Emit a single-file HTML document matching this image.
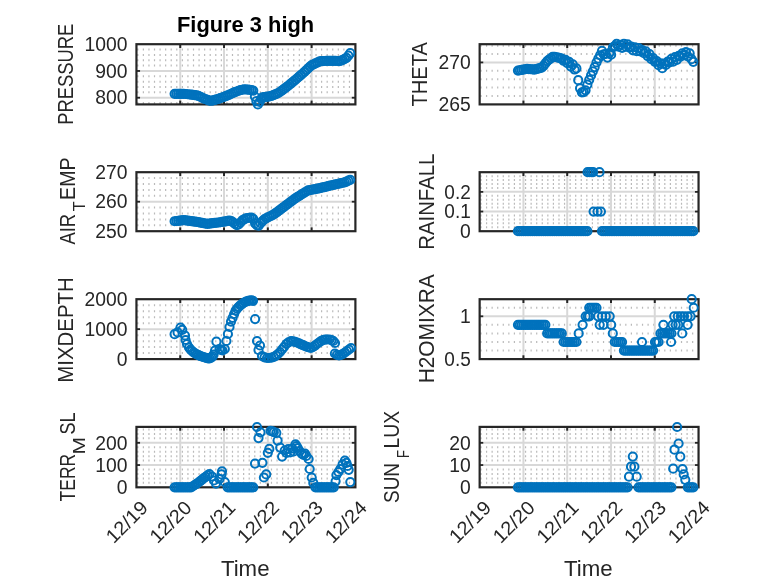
<!DOCTYPE html>
<html lang="en"><head><meta charset="utf-8"><title>Figure 3 high</title>
<style>html,body{margin:0;padding:0;background:#fff;}svg{display:block;}text{font-family:'Liberation Sans', 'DejaVu Sans', sans-serif;fill:#262626;}</style></head><body>
<svg width="778" height="583" viewBox="0 0 778 583">
<rect x="0" y="0" width="778" height="583" fill="#ffffff"/>
<text x="177" y="31.6" font-size="21.2" textLength="137.2" lengthAdjust="spacingAndGlyphs" font-weight="bold" style="fill:#000000">Figure 3 high</text>
<g>
<line x1="137.2" y1="103.06" x2="354.4" y2="103.06" stroke="#bababa" stroke-width="2" stroke-dasharray="1.2 4.37"/>
<line x1="137.2" y1="92.36" x2="354.4" y2="92.36" stroke="#bababa" stroke-width="2" stroke-dasharray="1.2 4.37"/>
<line x1="137.2" y1="87.01" x2="354.4" y2="87.01" stroke="#bababa" stroke-width="2" stroke-dasharray="1.2 4.37"/>
<line x1="137.2" y1="81.66" x2="354.4" y2="81.66" stroke="#bababa" stroke-width="2" stroke-dasharray="1.2 4.37"/>
<line x1="137.2" y1="76.31" x2="354.4" y2="76.31" stroke="#bababa" stroke-width="2" stroke-dasharray="1.2 4.37"/>
<line x1="137.2" y1="65.6" x2="354.4" y2="65.6" stroke="#bababa" stroke-width="2" stroke-dasharray="1.2 4.37"/>
<line x1="137.2" y1="60.25" x2="354.4" y2="60.25" stroke="#bababa" stroke-width="2" stroke-dasharray="1.2 4.37"/>
<line x1="137.2" y1="54.9" x2="354.4" y2="54.9" stroke="#bababa" stroke-width="2" stroke-dasharray="1.2 4.37"/>
<line x1="137.2" y1="49.55" x2="354.4" y2="49.55" stroke="#bababa" stroke-width="2" stroke-dasharray="1.2 4.37"/>
<line x1="180.24" y1="44.2" x2="180.24" y2="104.4" stroke="#d8d8d8" stroke-width="2"/>
<line x1="224.03" y1="44.2" x2="224.03" y2="104.4" stroke="#d8d8d8" stroke-width="2"/>
<line x1="267.82" y1="44.2" x2="267.82" y2="104.4" stroke="#d8d8d8" stroke-width="2"/>
<line x1="311.61" y1="44.2" x2="311.61" y2="104.4" stroke="#d8d8d8" stroke-width="2"/>
<line x1="136.45" y1="97.71" x2="355.4" y2="97.71" stroke="#d8d8d8" stroke-width="2"/>
<line x1="136.45" y1="70.96" x2="355.4" y2="70.96" stroke="#d8d8d8" stroke-width="2"/>
<rect x="136.45" y="44.2" width="218.95" height="60.2" fill="none" stroke="#262626" stroke-width="2.2"/>
<line x1="180.24" y1="104.4" x2="180.24" y2="100.6" stroke="#262626" stroke-width="2"/>
<line x1="180.24" y1="44.2" x2="180.24" y2="48" stroke="#262626" stroke-width="2"/>
<line x1="224.03" y1="104.4" x2="224.03" y2="100.6" stroke="#262626" stroke-width="2"/>
<line x1="224.03" y1="44.2" x2="224.03" y2="48" stroke="#262626" stroke-width="2"/>
<line x1="267.82" y1="104.4" x2="267.82" y2="100.6" stroke="#262626" stroke-width="2"/>
<line x1="267.82" y1="44.2" x2="267.82" y2="48" stroke="#262626" stroke-width="2"/>
<line x1="311.61" y1="104.4" x2="311.61" y2="100.6" stroke="#262626" stroke-width="2"/>
<line x1="311.61" y1="44.2" x2="311.61" y2="48" stroke="#262626" stroke-width="2"/>
<line x1="136.45" y1="97.71" x2="140.05" y2="97.71" stroke="#262626" stroke-width="1.8"/>
<line x1="355.4" y1="97.71" x2="351.8" y2="97.71" stroke="#262626" stroke-width="1.8"/>
<text x="95.3" y="104.41" font-size="19.3" textLength="32.25" lengthAdjust="spacingAndGlyphs">800</text>
<line x1="136.45" y1="70.96" x2="140.05" y2="70.96" stroke="#262626" stroke-width="1.8"/>
<line x1="355.4" y1="70.96" x2="351.8" y2="70.96" stroke="#262626" stroke-width="1.8"/>
<text x="95.3" y="77.66" font-size="19.3" textLength="32.25" lengthAdjust="spacingAndGlyphs">900</text>
<text x="84.55" y="50.9" font-size="19.3" textLength="43" lengthAdjust="spacingAndGlyphs">1000</text>
<text transform="translate(73.3 74.3) rotate(-90)" x="-50.4" y="0" font-size="21.2" textLength="100.8" lengthAdjust="spacingAndGlyphs">PRESSURE</text>
<g fill="none" stroke="#0072bd" stroke-width="2">
<circle cx="174.61" cy="93.8" r="4.1"/>
<circle cx="176.44" cy="93.8" r="4.1"/>
<circle cx="178.27" cy="93.8" r="4.1"/>
<circle cx="180.1" cy="93.8" r="4.1"/>
<circle cx="181.93" cy="93.8" r="4.1"/>
<circle cx="183.76" cy="93.8" r="4.1"/>
<circle cx="185.59" cy="94.01" r="4.1"/>
<circle cx="187.42" cy="94.24" r="4.1"/>
<circle cx="189.25" cy="94.48" r="4.1"/>
<circle cx="191.07" cy="94.72" r="4.1"/>
<circle cx="192.9" cy="94.95" r="4.1"/>
<circle cx="194.73" cy="95.19" r="4.1"/>
<circle cx="196.56" cy="95.43" r="4.1"/>
<circle cx="198.39" cy="95.84" r="4.1"/>
<circle cx="200.22" cy="96.74" r="4.1"/>
<circle cx="202.05" cy="97.64" r="4.1"/>
<circle cx="203.88" cy="98.54" r="4.1"/>
<circle cx="205.71" cy="99.26" r="4.1"/>
<circle cx="207.54" cy="99.97" r="4.1"/>
<circle cx="209.37" cy="100.68" r="4.1"/>
<circle cx="211.2" cy="100.77" r="4.1"/>
<circle cx="213.02" cy="100.34" r="4.1"/>
<circle cx="214.85" cy="99.9" r="4.1"/>
<circle cx="216.68" cy="99.47" r="4.1"/>
<circle cx="218.51" cy="98.84" r="4.1"/>
<circle cx="220.34" cy="98.16" r="4.1"/>
<circle cx="222.17" cy="97.48" r="4.1"/>
<circle cx="224" cy="96.8" r="4.1"/>
<circle cx="225.83" cy="96.1" r="4.1"/>
<circle cx="227.66" cy="95.32" r="4.1"/>
<circle cx="229.49" cy="94.53" r="4.1"/>
<circle cx="231.32" cy="93.75" r="4.1"/>
<circle cx="233.15" cy="92.97" r="4.1"/>
<circle cx="234.97" cy="92.21" r="4.1"/>
<circle cx="236.8" cy="91.48" r="4.1"/>
<circle cx="238.63" cy="90.75" r="4.1"/>
<circle cx="240.46" cy="90.11" r="4.1"/>
<circle cx="242.29" cy="89.75" r="4.1"/>
<circle cx="244.12" cy="89.4" r="4.1"/>
<circle cx="245.95" cy="89.51" r="4.1"/>
<circle cx="247.78" cy="89.61" r="4.1"/>
<circle cx="249.61" cy="89.77" r="4.1"/>
<circle cx="251.44" cy="90.19" r="4.1"/>
<circle cx="253.27" cy="90.6" r="4.1"/>
<circle cx="254.9" cy="96.6" r="4.1"/>
<circle cx="256.4" cy="101.2" r="4.1"/>
<circle cx="257.9" cy="104.4" r="4.1"/>
<circle cx="259.6" cy="102" r="4.1"/>
<circle cx="261.3" cy="98.8" r="4.1"/>
<circle cx="262.41" cy="97.4" r="4.1"/>
<circle cx="264.24" cy="97.09" r="4.1"/>
<circle cx="266.07" cy="96.82" r="4.1"/>
<circle cx="267.9" cy="96.59" r="4.1"/>
<circle cx="269.73" cy="96.35" r="4.1"/>
<circle cx="271.56" cy="95.92" r="4.1"/>
<circle cx="273.39" cy="95.13" r="4.1"/>
<circle cx="275.22" cy="94.33" r="4.1"/>
<circle cx="277.05" cy="93.54" r="4.1"/>
<circle cx="278.88" cy="92.75" r="4.1"/>
<circle cx="280.7" cy="91.43" r="4.1"/>
<circle cx="282.53" cy="90.07" r="4.1"/>
<circle cx="284.36" cy="88.71" r="4.1"/>
<circle cx="286.19" cy="87.35" r="4.1"/>
<circle cx="288.02" cy="85.98" r="4.1"/>
<circle cx="289.85" cy="84.43" r="4.1"/>
<circle cx="291.68" cy="82.88" r="4.1"/>
<circle cx="293.51" cy="81.34" r="4.1"/>
<circle cx="295.34" cy="79.79" r="4.1"/>
<circle cx="297.17" cy="78.24" r="4.1"/>
<circle cx="299" cy="76.69" r="4.1"/>
<circle cx="300.82" cy="75.14" r="4.1"/>
<circle cx="302.65" cy="73.5" r="4.1"/>
<circle cx="304.48" cy="71.77" r="4.1"/>
<circle cx="306.31" cy="70.04" r="4.1"/>
<circle cx="308.14" cy="68.3" r="4.1"/>
<circle cx="309.97" cy="66.57" r="4.1"/>
<circle cx="311.8" cy="65.21" r="4.1"/>
<circle cx="313.63" cy="64.31" r="4.1"/>
<circle cx="315.46" cy="63.42" r="4.1"/>
<circle cx="317.29" cy="62.52" r="4.1"/>
<circle cx="319.12" cy="61.63" r="4.1"/>
<circle cx="320.95" cy="61.08" r="4.1"/>
<circle cx="322.77" cy="61.04" r="4.1"/>
<circle cx="324.6" cy="60.99" r="4.1"/>
<circle cx="326.43" cy="60.95" r="4.1"/>
<circle cx="328.26" cy="60.9" r="4.1"/>
<circle cx="330.09" cy="60.86" r="4.1"/>
<circle cx="331.92" cy="60.81" r="4.1"/>
<circle cx="333.75" cy="60.85" r="4.1"/>
<circle cx="335.58" cy="60.92" r="4.1"/>
<circle cx="337.41" cy="60.99" r="4.1"/>
<circle cx="339.24" cy="61.06" r="4.1"/>
<circle cx="341.07" cy="60.71" r="4.1"/>
<circle cx="342.9" cy="59.78" r="4.1"/>
<circle cx="344.73" cy="58.85" r="4.1"/>
<circle cx="346.55" cy="57.82" r="4.1"/>
<circle cx="348.38" cy="55.64" r="4.1"/>
<circle cx="350.21" cy="53.22" r="4.1"/>
</g>
</g>
<g>
<line x1="480.4" y1="96" x2="697.55" y2="96" stroke="#bababa" stroke-width="2" stroke-dasharray="1.2 4.37"/>
<line x1="480.4" y1="87.61" x2="697.55" y2="87.61" stroke="#bababa" stroke-width="2" stroke-dasharray="1.2 4.37"/>
<line x1="480.4" y1="79.21" x2="697.55" y2="79.21" stroke="#bababa" stroke-width="2" stroke-dasharray="1.2 4.37"/>
<line x1="480.4" y1="70.82" x2="697.55" y2="70.82" stroke="#bababa" stroke-width="2" stroke-dasharray="1.2 4.37"/>
<line x1="480.4" y1="54.02" x2="697.55" y2="54.02" stroke="#bababa" stroke-width="2" stroke-dasharray="1.2 4.37"/>
<line x1="480.4" y1="45.63" x2="697.55" y2="45.63" stroke="#bababa" stroke-width="2" stroke-dasharray="1.2 4.37"/>
<line x1="523.43" y1="44.2" x2="523.43" y2="104.4" stroke="#d8d8d8" stroke-width="2"/>
<line x1="567.21" y1="44.2" x2="567.21" y2="104.4" stroke="#d8d8d8" stroke-width="2"/>
<line x1="610.99" y1="44.2" x2="610.99" y2="104.4" stroke="#d8d8d8" stroke-width="2"/>
<line x1="654.77" y1="44.2" x2="654.77" y2="104.4" stroke="#d8d8d8" stroke-width="2"/>
<line x1="479.65" y1="62.42" x2="698.55" y2="62.42" stroke="#d8d8d8" stroke-width="2"/>
<rect x="479.65" y="44.2" width="218.9" height="60.2" fill="none" stroke="#262626" stroke-width="2.2"/>
<line x1="523.43" y1="104.4" x2="523.43" y2="100.6" stroke="#262626" stroke-width="2"/>
<line x1="523.43" y1="44.2" x2="523.43" y2="48" stroke="#262626" stroke-width="2"/>
<line x1="567.21" y1="104.4" x2="567.21" y2="100.6" stroke="#262626" stroke-width="2"/>
<line x1="567.21" y1="44.2" x2="567.21" y2="48" stroke="#262626" stroke-width="2"/>
<line x1="610.99" y1="104.4" x2="610.99" y2="100.6" stroke="#262626" stroke-width="2"/>
<line x1="610.99" y1="44.2" x2="610.99" y2="48" stroke="#262626" stroke-width="2"/>
<line x1="654.77" y1="104.4" x2="654.77" y2="100.6" stroke="#262626" stroke-width="2"/>
<line x1="654.77" y1="44.2" x2="654.77" y2="48" stroke="#262626" stroke-width="2"/>
<text x="438.5" y="111.1" font-size="19.3" textLength="32.25" lengthAdjust="spacingAndGlyphs">265</text>
<line x1="479.65" y1="62.42" x2="483.25" y2="62.42" stroke="#262626" stroke-width="1.8"/>
<line x1="698.55" y1="62.42" x2="694.95" y2="62.42" stroke="#262626" stroke-width="1.8"/>
<text x="438.5" y="69.12" font-size="19.3" textLength="32.25" lengthAdjust="spacingAndGlyphs">270</text>
<text transform="translate(427.3 74.3) rotate(-90)" x="-32.2" y="0" font-size="21.2" textLength="64.4" lengthAdjust="spacingAndGlyphs">THETA</text>
<g fill="none" stroke="#0072bd" stroke-width="2">
<circle cx="517.96" cy="70.61" r="4.1"/>
<circle cx="519.79" cy="70.27" r="4.1"/>
<circle cx="521.61" cy="69.93" r="4.1"/>
<circle cx="523.44" cy="69.59" r="4.1"/>
<circle cx="525.27" cy="69.24" r="4.1"/>
<circle cx="527.09" cy="68.9" r="4.1"/>
<circle cx="528.92" cy="69.07" r="4.1"/>
<circle cx="530.75" cy="69.23" r="4.1"/>
<circle cx="532.57" cy="69.4" r="4.1"/>
<circle cx="534.4" cy="69.56" r="4.1"/>
<circle cx="536.23" cy="69.17" r="4.1"/>
<circle cx="538.05" cy="68.63" r="4.1"/>
<circle cx="539.88" cy="68.08" r="4.1"/>
<circle cx="541.71" cy="67.54" r="4.1"/>
<circle cx="543.53" cy="65.91" r="4.1"/>
<circle cx="545.36" cy="63.45" r="4.1"/>
<circle cx="547.19" cy="61.04" r="4.1"/>
<circle cx="549.01" cy="59.68" r="4.1"/>
<circle cx="550.84" cy="58.33" r="4.1"/>
<circle cx="552.67" cy="56.97" r="4.1"/>
<circle cx="554.49" cy="56.8" r="4.1"/>
<circle cx="556.32" cy="57.26" r="4.1"/>
<circle cx="558.15" cy="57.71" r="4.1"/>
<circle cx="559.97" cy="58.17" r="4.1"/>
<circle cx="561.8" cy="58.62" r="4.1"/>
<circle cx="563.63" cy="60.77" r="4.1"/>
<circle cx="565.45" cy="59.89" r="4.1"/>
<circle cx="567.28" cy="63.18" r="4.1"/>
<circle cx="569.11" cy="61.92" r="4.1"/>
<circle cx="570.93" cy="66.57" r="4.1"/>
<circle cx="572.76" cy="64.46" r="4.1"/>
<circle cx="574.59" cy="69.52" r="4.1"/>
<circle cx="576.41" cy="68.38" r="4.1"/>
<circle cx="578.24" cy="80.15" r="4.1"/>
<circle cx="580.07" cy="88.33" r="4.1"/>
<circle cx="581.89" cy="92.29" r="4.1"/>
<circle cx="583.72" cy="92.12" r="4.1"/>
<circle cx="585.55" cy="90.31" r="4.1"/>
<circle cx="587.37" cy="84.64" r="4.1"/>
<circle cx="589.2" cy="79.81" r="4.1"/>
<circle cx="591.03" cy="75.42" r="4.1"/>
<circle cx="592.85" cy="71.32" r="4.1"/>
<circle cx="594.68" cy="67.12" r="4.1"/>
<circle cx="596.51" cy="62.44" r="4.1"/>
<circle cx="598.33" cy="58.53" r="4.1"/>
<circle cx="600.16" cy="55.23" r="4.1"/>
<circle cx="601.99" cy="50.75" r="4.1"/>
<circle cx="603.81" cy="54.46" r="4.1"/>
<circle cx="605.64" cy="53.99" r="4.1"/>
<circle cx="607.47" cy="57.62" r="4.1"/>
<circle cx="609.29" cy="53.21" r="4.1"/>
<circle cx="611.12" cy="54.67" r="4.1"/>
<circle cx="612.95" cy="47.32" r="4.1"/>
<circle cx="614.77" cy="46.08" r="4.1"/>
<circle cx="616.6" cy="43.89" r="4.1"/>
<circle cx="618.43" cy="46.71" r="4.1"/>
<circle cx="620.25" cy="44.91" r="4.1"/>
<circle cx="622.08" cy="47.92" r="4.1"/>
<circle cx="623.91" cy="43.74" r="4.1"/>
<circle cx="625.73" cy="46.7" r="4.1"/>
<circle cx="627.56" cy="44.34" r="4.1"/>
<circle cx="629.39" cy="47.6" r="4.1"/>
<circle cx="631.21" cy="46.7" r="4.1"/>
<circle cx="633.04" cy="50.33" r="4.1"/>
<circle cx="634.87" cy="47.23" r="4.1"/>
<circle cx="636.69" cy="51.17" r="4.1"/>
<circle cx="638.52" cy="47.98" r="4.1"/>
<circle cx="640.35" cy="51.42" r="4.1"/>
<circle cx="642.17" cy="50.22" r="4.1"/>
<circle cx="644" cy="53.18" r="4.1"/>
<circle cx="645.83" cy="51.46" r="4.1"/>
<circle cx="647.65" cy="56.11" r="4.1"/>
<circle cx="649.48" cy="54.06" r="4.1"/>
<circle cx="651.31" cy="59.14" r="4.1"/>
<circle cx="653.13" cy="58.1" r="4.1"/>
<circle cx="654.96" cy="61.79" r="4.1"/>
<circle cx="656.79" cy="61.18" r="4.1"/>
<circle cx="658.61" cy="65.25" r="4.1"/>
<circle cx="660.44" cy="63.34" r="4.1"/>
<circle cx="662.27" cy="68.24" r="4.1"/>
<circle cx="664.09" cy="63.56" r="4.1"/>
<circle cx="665.92" cy="64.96" r="4.1"/>
<circle cx="667.75" cy="61.59" r="4.1"/>
<circle cx="669.57" cy="62.38" r="4.1"/>
<circle cx="671.4" cy="58.94" r="4.1"/>
<circle cx="673.23" cy="61.57" r="4.1"/>
<circle cx="675.05" cy="57.13" r="4.1"/>
<circle cx="676.88" cy="59.79" r="4.1"/>
<circle cx="678.71" cy="55.97" r="4.1"/>
<circle cx="680.53" cy="56.7" r="4.1"/>
<circle cx="682.36" cy="53.27" r="4.1"/>
<circle cx="684.19" cy="55.05" r="4.1"/>
<circle cx="686.01" cy="52.14" r="4.1"/>
<circle cx="687.84" cy="56.32" r="4.1"/>
<circle cx="689.67" cy="53.41" r="4.1"/>
<circle cx="691.49" cy="59.16" r="4.1"/>
<circle cx="693.32" cy="61.86" r="4.1"/>
</g>
</g>
<g>
<line x1="137.2" y1="225.3" x2="354.4" y2="225.3" stroke="#bababa" stroke-width="2" stroke-dasharray="1.2 4.37"/>
<line x1="137.2" y1="219.4" x2="354.4" y2="219.4" stroke="#bababa" stroke-width="2" stroke-dasharray="1.2 4.37"/>
<line x1="137.2" y1="213.5" x2="354.4" y2="213.5" stroke="#bababa" stroke-width="2" stroke-dasharray="1.2 4.37"/>
<line x1="137.2" y1="207.6" x2="354.4" y2="207.6" stroke="#bababa" stroke-width="2" stroke-dasharray="1.2 4.37"/>
<line x1="137.2" y1="195.8" x2="354.4" y2="195.8" stroke="#bababa" stroke-width="2" stroke-dasharray="1.2 4.37"/>
<line x1="137.2" y1="189.9" x2="354.4" y2="189.9" stroke="#bababa" stroke-width="2" stroke-dasharray="1.2 4.37"/>
<line x1="137.2" y1="184" x2="354.4" y2="184" stroke="#bababa" stroke-width="2" stroke-dasharray="1.2 4.37"/>
<line x1="137.2" y1="178.1" x2="354.4" y2="178.1" stroke="#bababa" stroke-width="2" stroke-dasharray="1.2 4.37"/>
<line x1="180.24" y1="172.2" x2="180.24" y2="231.2" stroke="#d8d8d8" stroke-width="2"/>
<line x1="224.03" y1="172.2" x2="224.03" y2="231.2" stroke="#d8d8d8" stroke-width="2"/>
<line x1="267.82" y1="172.2" x2="267.82" y2="231.2" stroke="#d8d8d8" stroke-width="2"/>
<line x1="311.61" y1="172.2" x2="311.61" y2="231.2" stroke="#d8d8d8" stroke-width="2"/>
<line x1="136.45" y1="201.7" x2="355.4" y2="201.7" stroke="#d8d8d8" stroke-width="2"/>
<rect x="136.45" y="172.2" width="218.95" height="59" fill="none" stroke="#262626" stroke-width="2.2"/>
<line x1="180.24" y1="231.2" x2="180.24" y2="227.4" stroke="#262626" stroke-width="2"/>
<line x1="180.24" y1="172.2" x2="180.24" y2="176" stroke="#262626" stroke-width="2"/>
<line x1="224.03" y1="231.2" x2="224.03" y2="227.4" stroke="#262626" stroke-width="2"/>
<line x1="224.03" y1="172.2" x2="224.03" y2="176" stroke="#262626" stroke-width="2"/>
<line x1="267.82" y1="231.2" x2="267.82" y2="227.4" stroke="#262626" stroke-width="2"/>
<line x1="267.82" y1="172.2" x2="267.82" y2="176" stroke="#262626" stroke-width="2"/>
<line x1="311.61" y1="231.2" x2="311.61" y2="227.4" stroke="#262626" stroke-width="2"/>
<line x1="311.61" y1="172.2" x2="311.61" y2="176" stroke="#262626" stroke-width="2"/>
<text x="95.3" y="237.9" font-size="19.3" textLength="32.25" lengthAdjust="spacingAndGlyphs">250</text>
<line x1="136.45" y1="201.7" x2="140.05" y2="201.7" stroke="#262626" stroke-width="1.8"/>
<line x1="355.4" y1="201.7" x2="351.8" y2="201.7" stroke="#262626" stroke-width="1.8"/>
<text x="95.3" y="208.4" font-size="19.3" textLength="32.25" lengthAdjust="spacingAndGlyphs">260</text>
<text x="95.3" y="178.9" font-size="19.3" textLength="32.25" lengthAdjust="spacingAndGlyphs">270</text>
<text transform="translate(75.4 244.5) rotate(-90)" x="0" y="0" font-size="21.2" textLength="30.6" lengthAdjust="spacingAndGlyphs">AIR</text>
<text transform="translate(85.3 211.2) rotate(-90)" x="0" y="0" font-size="16.96" textLength="10" lengthAdjust="spacingAndGlyphs">T</text>
<text transform="translate(75.4 199.9) rotate(-90)" x="0" y="0" font-size="21.2" textLength="42.6" lengthAdjust="spacingAndGlyphs">EMP</text>
<g fill="none" stroke="#0072bd" stroke-width="2">
<circle cx="174.61" cy="221.23" r="4.1"/>
<circle cx="176.44" cy="221.01" r="4.1"/>
<circle cx="178.27" cy="220.79" r="4.1"/>
<circle cx="180.1" cy="220.57" r="4.1"/>
<circle cx="181.93" cy="220.35" r="4.1"/>
<circle cx="183.76" cy="220.13" r="4.1"/>
<circle cx="185.59" cy="220.32" r="4.1"/>
<circle cx="187.42" cy="220.57" r="4.1"/>
<circle cx="189.25" cy="220.83" r="4.1"/>
<circle cx="191.07" cy="221.08" r="4.1"/>
<circle cx="192.9" cy="221.33" r="4.1"/>
<circle cx="194.73" cy="221.58" r="4.1"/>
<circle cx="196.56" cy="221.85" r="4.1"/>
<circle cx="198.39" cy="222.21" r="4.1"/>
<circle cx="200.22" cy="222.56" r="4.1"/>
<circle cx="202.05" cy="222.92" r="4.1"/>
<circle cx="203.88" cy="223.27" r="4.1"/>
<circle cx="205.71" cy="223.63" r="4.1"/>
<circle cx="207.54" cy="223.85" r="4.1"/>
<circle cx="209.37" cy="223.63" r="4.1"/>
<circle cx="211.2" cy="223.4" r="4.1"/>
<circle cx="213.02" cy="223.18" r="4.1"/>
<circle cx="214.85" cy="222.96" r="4.1"/>
<circle cx="216.68" cy="222.74" r="4.1"/>
<circle cx="218.51" cy="222.52" r="4.1"/>
<circle cx="220.34" cy="222.25" r="4.1"/>
<circle cx="222.17" cy="221.93" r="4.1"/>
<circle cx="224" cy="221.61" r="4.1"/>
<circle cx="225.83" cy="221.29" r="4.1"/>
<circle cx="227.66" cy="220.96" r="4.1"/>
<circle cx="229.49" cy="220.64" r="4.1"/>
<circle cx="231.32" cy="221.14" r="4.1"/>
<circle cx="233.15" cy="222.28" r="4.1"/>
<circle cx="234.97" cy="223.87" r="4.1"/>
<circle cx="236.8" cy="225.08" r="4.1"/>
<circle cx="238.63" cy="224.51" r="4.1"/>
<circle cx="240.46" cy="222.5" r="4.1"/>
<circle cx="242.29" cy="220.34" r="4.1"/>
<circle cx="244.12" cy="219.34" r="4.1"/>
<circle cx="245.95" cy="218.34" r="4.1"/>
<circle cx="247.78" cy="217.99" r="4.1"/>
<circle cx="249.61" cy="217.75" r="4.1"/>
<circle cx="251.44" cy="217.51" r="4.1"/>
<circle cx="253.27" cy="218.88" r="4.1"/>
<circle cx="255.1" cy="223.44" r="4.1"/>
<circle cx="256.92" cy="225.14" r="4.1"/>
<circle cx="258.75" cy="225.57" r="4.1"/>
<circle cx="260.58" cy="223.19" r="4.1"/>
<circle cx="262.41" cy="221.14" r="4.1"/>
<circle cx="264.24" cy="219.43" r="4.1"/>
<circle cx="266.07" cy="218.31" r="4.1"/>
<circle cx="267.9" cy="217.4" r="4.1"/>
<circle cx="269.73" cy="216.49" r="4.1"/>
<circle cx="271.56" cy="215.57" r="4.1"/>
<circle cx="273.39" cy="214.66" r="4.1"/>
<circle cx="275.22" cy="213.41" r="4.1"/>
<circle cx="277.05" cy="212.04" r="4.1"/>
<circle cx="278.88" cy="210.67" r="4.1"/>
<circle cx="280.7" cy="209.3" r="4.1"/>
<circle cx="282.53" cy="207.93" r="4.1"/>
<circle cx="284.36" cy="206.55" r="4.1"/>
<circle cx="286.19" cy="205.18" r="4.1"/>
<circle cx="288.02" cy="203.81" r="4.1"/>
<circle cx="289.85" cy="202.44" r="4.1"/>
<circle cx="291.68" cy="201.07" r="4.1"/>
<circle cx="293.51" cy="199.69" r="4.1"/>
<circle cx="295.34" cy="198.32" r="4.1"/>
<circle cx="297.17" cy="197.17" r="4.1"/>
<circle cx="299" cy="196.03" r="4.1"/>
<circle cx="300.82" cy="194.89" r="4.1"/>
<circle cx="302.65" cy="193.76" r="4.1"/>
<circle cx="304.48" cy="192.62" r="4.1"/>
<circle cx="306.31" cy="191.49" r="4.1"/>
<circle cx="308.14" cy="190.45" r="4.1"/>
<circle cx="309.97" cy="190.1" r="4.1"/>
<circle cx="311.8" cy="189.74" r="4.1"/>
<circle cx="313.63" cy="189.38" r="4.1"/>
<circle cx="315.46" cy="189.03" r="4.1"/>
<circle cx="317.29" cy="188.67" r="4.1"/>
<circle cx="319.12" cy="188.31" r="4.1"/>
<circle cx="320.95" cy="187.92" r="4.1"/>
<circle cx="322.77" cy="187.47" r="4.1"/>
<circle cx="324.6" cy="187.03" r="4.1"/>
<circle cx="326.43" cy="186.58" r="4.1"/>
<circle cx="328.26" cy="186.13" r="4.1"/>
<circle cx="330.09" cy="185.69" r="4.1"/>
<circle cx="331.92" cy="185.24" r="4.1"/>
<circle cx="333.75" cy="184.82" r="4.1"/>
<circle cx="335.58" cy="184.4" r="4.1"/>
<circle cx="337.41" cy="183.99" r="4.1"/>
<circle cx="339.24" cy="183.58" r="4.1"/>
<circle cx="341.07" cy="183.17" r="4.1"/>
<circle cx="342.9" cy="182.75" r="4.1"/>
<circle cx="344.73" cy="182.34" r="4.1"/>
<circle cx="346.55" cy="181.55" r="4.1"/>
<circle cx="348.38" cy="180.71" r="4.1"/>
<circle cx="350.21" cy="179.88" r="4.1"/>
</g>
</g>
<g>
<line x1="480.4" y1="227.27" x2="697.55" y2="227.27" stroke="#bababa" stroke-width="2" stroke-dasharray="1.2 4.37"/>
<line x1="480.4" y1="223.33" x2="697.55" y2="223.33" stroke="#bababa" stroke-width="2" stroke-dasharray="1.2 4.37"/>
<line x1="480.4" y1="219.4" x2="697.55" y2="219.4" stroke="#bababa" stroke-width="2" stroke-dasharray="1.2 4.37"/>
<line x1="480.4" y1="215.47" x2="697.55" y2="215.47" stroke="#bababa" stroke-width="2" stroke-dasharray="1.2 4.37"/>
<line x1="480.4" y1="207.6" x2="697.55" y2="207.6" stroke="#bababa" stroke-width="2" stroke-dasharray="1.2 4.37"/>
<line x1="480.4" y1="203.67" x2="697.55" y2="203.67" stroke="#bababa" stroke-width="2" stroke-dasharray="1.2 4.37"/>
<line x1="480.4" y1="199.73" x2="697.55" y2="199.73" stroke="#bababa" stroke-width="2" stroke-dasharray="1.2 4.37"/>
<line x1="480.4" y1="195.8" x2="697.55" y2="195.8" stroke="#bababa" stroke-width="2" stroke-dasharray="1.2 4.37"/>
<line x1="480.4" y1="187.93" x2="697.55" y2="187.93" stroke="#bababa" stroke-width="2" stroke-dasharray="1.2 4.37"/>
<line x1="480.4" y1="184" x2="697.55" y2="184" stroke="#bababa" stroke-width="2" stroke-dasharray="1.2 4.37"/>
<line x1="480.4" y1="180.07" x2="697.55" y2="180.07" stroke="#bababa" stroke-width="2" stroke-dasharray="1.2 4.37"/>
<line x1="480.4" y1="176.13" x2="697.55" y2="176.13" stroke="#bababa" stroke-width="2" stroke-dasharray="1.2 4.37"/>
<line x1="523.43" y1="172.2" x2="523.43" y2="231.2" stroke="#d8d8d8" stroke-width="2"/>
<line x1="567.21" y1="172.2" x2="567.21" y2="231.2" stroke="#d8d8d8" stroke-width="2"/>
<line x1="610.99" y1="172.2" x2="610.99" y2="231.2" stroke="#d8d8d8" stroke-width="2"/>
<line x1="654.77" y1="172.2" x2="654.77" y2="231.2" stroke="#d8d8d8" stroke-width="2"/>
<line x1="479.65" y1="211.53" x2="698.55" y2="211.53" stroke="#d8d8d8" stroke-width="2"/>
<line x1="479.65" y1="191.87" x2="698.55" y2="191.87" stroke="#d8d8d8" stroke-width="2"/>
<rect x="479.65" y="172.2" width="218.9" height="59" fill="none" stroke="#262626" stroke-width="2.2"/>
<line x1="523.43" y1="231.2" x2="523.43" y2="227.4" stroke="#262626" stroke-width="2"/>
<line x1="523.43" y1="172.2" x2="523.43" y2="176" stroke="#262626" stroke-width="2"/>
<line x1="567.21" y1="231.2" x2="567.21" y2="227.4" stroke="#262626" stroke-width="2"/>
<line x1="567.21" y1="172.2" x2="567.21" y2="176" stroke="#262626" stroke-width="2"/>
<line x1="610.99" y1="231.2" x2="610.99" y2="227.4" stroke="#262626" stroke-width="2"/>
<line x1="610.99" y1="172.2" x2="610.99" y2="176" stroke="#262626" stroke-width="2"/>
<line x1="654.77" y1="231.2" x2="654.77" y2="227.4" stroke="#262626" stroke-width="2"/>
<line x1="654.77" y1="172.2" x2="654.77" y2="176" stroke="#262626" stroke-width="2"/>
<text x="460" y="237.9" font-size="19.3" textLength="10.75" lengthAdjust="spacingAndGlyphs">0</text>
<line x1="479.65" y1="211.53" x2="483.25" y2="211.53" stroke="#262626" stroke-width="1.8"/>
<line x1="698.55" y1="211.53" x2="694.95" y2="211.53" stroke="#262626" stroke-width="1.8"/>
<text x="444.35" y="218.23" font-size="19.3" textLength="26.4" lengthAdjust="spacingAndGlyphs">0.1</text>
<line x1="479.65" y1="191.87" x2="483.25" y2="191.87" stroke="#262626" stroke-width="1.8"/>
<line x1="698.55" y1="191.87" x2="694.95" y2="191.87" stroke="#262626" stroke-width="1.8"/>
<text x="444.35" y="198.57" font-size="19.3" textLength="26.4" lengthAdjust="spacingAndGlyphs">0.2</text>
<text transform="translate(434.4 201.7) rotate(-90)" x="-48.1" y="0" font-size="21.2" textLength="96.2" lengthAdjust="spacingAndGlyphs">RAINFALL</text>
<g fill="none" stroke="#0072bd" stroke-width="2">
<circle cx="517.96" cy="231.2" r="4.1"/>
<circle cx="519.79" cy="231.2" r="4.1"/>
<circle cx="521.61" cy="231.2" r="4.1"/>
<circle cx="523.44" cy="231.2" r="4.1"/>
<circle cx="525.27" cy="231.2" r="4.1"/>
<circle cx="527.09" cy="231.2" r="4.1"/>
<circle cx="528.92" cy="231.2" r="4.1"/>
<circle cx="530.75" cy="231.2" r="4.1"/>
<circle cx="532.57" cy="231.2" r="4.1"/>
<circle cx="534.4" cy="231.2" r="4.1"/>
<circle cx="536.23" cy="231.2" r="4.1"/>
<circle cx="538.05" cy="231.2" r="4.1"/>
<circle cx="539.88" cy="231.2" r="4.1"/>
<circle cx="541.71" cy="231.2" r="4.1"/>
<circle cx="543.53" cy="231.2" r="4.1"/>
<circle cx="545.36" cy="231.2" r="4.1"/>
<circle cx="547.19" cy="231.2" r="4.1"/>
<circle cx="549.01" cy="231.2" r="4.1"/>
<circle cx="550.84" cy="231.2" r="4.1"/>
<circle cx="552.67" cy="231.2" r="4.1"/>
<circle cx="554.49" cy="231.2" r="4.1"/>
<circle cx="556.32" cy="231.2" r="4.1"/>
<circle cx="558.15" cy="231.2" r="4.1"/>
<circle cx="559.97" cy="231.2" r="4.1"/>
<circle cx="561.8" cy="231.2" r="4.1"/>
<circle cx="563.63" cy="231.2" r="4.1"/>
<circle cx="565.45" cy="231.2" r="4.1"/>
<circle cx="567.28" cy="231.2" r="4.1"/>
<circle cx="569.11" cy="231.2" r="4.1"/>
<circle cx="570.93" cy="231.2" r="4.1"/>
<circle cx="572.76" cy="231.2" r="4.1"/>
<circle cx="574.59" cy="231.2" r="4.1"/>
<circle cx="576.41" cy="231.2" r="4.1"/>
<circle cx="578.24" cy="231.2" r="4.1"/>
<circle cx="580.07" cy="231.2" r="4.1"/>
<circle cx="581.89" cy="231.2" r="4.1"/>
<circle cx="583.72" cy="231.2" r="4.1"/>
<circle cx="585.55" cy="231.2" r="4.1"/>
<circle cx="587.37" cy="231.2" r="4.1"/>
<circle cx="601.99" cy="231.2" r="4.1"/>
<circle cx="603.81" cy="231.2" r="4.1"/>
<circle cx="605.64" cy="231.2" r="4.1"/>
<circle cx="607.47" cy="231.2" r="4.1"/>
<circle cx="609.29" cy="231.2" r="4.1"/>
<circle cx="611.12" cy="231.2" r="4.1"/>
<circle cx="612.95" cy="231.2" r="4.1"/>
<circle cx="614.77" cy="231.2" r="4.1"/>
<circle cx="616.6" cy="231.2" r="4.1"/>
<circle cx="618.43" cy="231.2" r="4.1"/>
<circle cx="620.25" cy="231.2" r="4.1"/>
<circle cx="622.08" cy="231.2" r="4.1"/>
<circle cx="623.91" cy="231.2" r="4.1"/>
<circle cx="625.73" cy="231.2" r="4.1"/>
<circle cx="627.56" cy="231.2" r="4.1"/>
<circle cx="629.39" cy="231.2" r="4.1"/>
<circle cx="631.21" cy="231.2" r="4.1"/>
<circle cx="633.04" cy="231.2" r="4.1"/>
<circle cx="634.87" cy="231.2" r="4.1"/>
<circle cx="636.69" cy="231.2" r="4.1"/>
<circle cx="638.52" cy="231.2" r="4.1"/>
<circle cx="640.35" cy="231.2" r="4.1"/>
<circle cx="642.17" cy="231.2" r="4.1"/>
<circle cx="644" cy="231.2" r="4.1"/>
<circle cx="645.83" cy="231.2" r="4.1"/>
<circle cx="647.65" cy="231.2" r="4.1"/>
<circle cx="649.48" cy="231.2" r="4.1"/>
<circle cx="651.31" cy="231.2" r="4.1"/>
<circle cx="653.13" cy="231.2" r="4.1"/>
<circle cx="654.96" cy="231.2" r="4.1"/>
<circle cx="656.79" cy="231.2" r="4.1"/>
<circle cx="658.61" cy="231.2" r="4.1"/>
<circle cx="660.44" cy="231.2" r="4.1"/>
<circle cx="662.27" cy="231.2" r="4.1"/>
<circle cx="664.09" cy="231.2" r="4.1"/>
<circle cx="665.92" cy="231.2" r="4.1"/>
<circle cx="667.75" cy="231.2" r="4.1"/>
<circle cx="669.57" cy="231.2" r="4.1"/>
<circle cx="671.4" cy="231.2" r="4.1"/>
<circle cx="673.23" cy="231.2" r="4.1"/>
<circle cx="675.05" cy="231.2" r="4.1"/>
<circle cx="676.88" cy="231.2" r="4.1"/>
<circle cx="678.71" cy="231.2" r="4.1"/>
<circle cx="680.53" cy="231.2" r="4.1"/>
<circle cx="682.36" cy="231.2" r="4.1"/>
<circle cx="684.19" cy="231.2" r="4.1"/>
<circle cx="686.01" cy="231.2" r="4.1"/>
<circle cx="687.84" cy="231.2" r="4.1"/>
<circle cx="689.67" cy="231.2" r="4.1"/>
<circle cx="691.49" cy="231.2" r="4.1"/>
<circle cx="693.32" cy="231.2" r="4.1"/>
<circle cx="587.6" cy="172.2" r="4.1"/>
<circle cx="589.5" cy="172.2" r="4.1"/>
<circle cx="591.3" cy="172.2" r="4.1"/>
<circle cx="593.1" cy="172.2" r="4.1"/>
<circle cx="599.5" cy="172.2" r="4.1"/>
<circle cx="593.6" cy="211.6" r="4.1"/>
<circle cx="597.5" cy="211.6" r="4.1"/>
<circle cx="600.9" cy="211.6" r="4.1"/>
</g>
</g>
<g>
<line x1="137.2" y1="353.11" x2="354.4" y2="353.11" stroke="#bababa" stroke-width="2" stroke-dasharray="1.2 4.37"/>
<line x1="137.2" y1="347.12" x2="354.4" y2="347.12" stroke="#bababa" stroke-width="2" stroke-dasharray="1.2 4.37"/>
<line x1="137.2" y1="341.13" x2="354.4" y2="341.13" stroke="#bababa" stroke-width="2" stroke-dasharray="1.2 4.37"/>
<line x1="137.2" y1="335.14" x2="354.4" y2="335.14" stroke="#bababa" stroke-width="2" stroke-dasharray="1.2 4.37"/>
<line x1="137.2" y1="323.16" x2="354.4" y2="323.16" stroke="#bababa" stroke-width="2" stroke-dasharray="1.2 4.37"/>
<line x1="137.2" y1="317.17" x2="354.4" y2="317.17" stroke="#bababa" stroke-width="2" stroke-dasharray="1.2 4.37"/>
<line x1="137.2" y1="311.18" x2="354.4" y2="311.18" stroke="#bababa" stroke-width="2" stroke-dasharray="1.2 4.37"/>
<line x1="137.2" y1="305.19" x2="354.4" y2="305.19" stroke="#bababa" stroke-width="2" stroke-dasharray="1.2 4.37"/>
<line x1="180.24" y1="299.2" x2="180.24" y2="359.1" stroke="#d8d8d8" stroke-width="2"/>
<line x1="224.03" y1="299.2" x2="224.03" y2="359.1" stroke="#d8d8d8" stroke-width="2"/>
<line x1="267.82" y1="299.2" x2="267.82" y2="359.1" stroke="#d8d8d8" stroke-width="2"/>
<line x1="311.61" y1="299.2" x2="311.61" y2="359.1" stroke="#d8d8d8" stroke-width="2"/>
<line x1="136.45" y1="329.15" x2="355.4" y2="329.15" stroke="#d8d8d8" stroke-width="2"/>
<rect x="136.45" y="299.2" width="218.95" height="59.9" fill="none" stroke="#262626" stroke-width="2.2"/>
<line x1="180.24" y1="359.1" x2="180.24" y2="355.3" stroke="#262626" stroke-width="2"/>
<line x1="180.24" y1="299.2" x2="180.24" y2="303" stroke="#262626" stroke-width="2"/>
<line x1="224.03" y1="359.1" x2="224.03" y2="355.3" stroke="#262626" stroke-width="2"/>
<line x1="224.03" y1="299.2" x2="224.03" y2="303" stroke="#262626" stroke-width="2"/>
<line x1="267.82" y1="359.1" x2="267.82" y2="355.3" stroke="#262626" stroke-width="2"/>
<line x1="267.82" y1="299.2" x2="267.82" y2="303" stroke="#262626" stroke-width="2"/>
<line x1="311.61" y1="359.1" x2="311.61" y2="355.3" stroke="#262626" stroke-width="2"/>
<line x1="311.61" y1="299.2" x2="311.61" y2="303" stroke="#262626" stroke-width="2"/>
<text x="116.8" y="365.8" font-size="19.3" textLength="10.75" lengthAdjust="spacingAndGlyphs">0</text>
<line x1="136.45" y1="329.15" x2="140.05" y2="329.15" stroke="#262626" stroke-width="1.8"/>
<line x1="355.4" y1="329.15" x2="351.8" y2="329.15" stroke="#262626" stroke-width="1.8"/>
<text x="84.55" y="335.85" font-size="19.3" textLength="43" lengthAdjust="spacingAndGlyphs">1000</text>
<text x="84.55" y="305.9" font-size="19.3" textLength="43" lengthAdjust="spacingAndGlyphs">2000</text>
<text transform="translate(73.3 329.95) rotate(-90)" x="-52.8" y="0" font-size="21.2" textLength="105.6" lengthAdjust="spacingAndGlyphs">MIXDEPTH</text>
<g fill="none" stroke="#0072bd" stroke-width="2">
<circle cx="174.6" cy="334.2" r="4.1"/>
<circle cx="177.6" cy="332.4" r="4.1"/>
<circle cx="180.5" cy="327.5" r="4.1"/>
<circle cx="182.2" cy="329.8" r="4.1"/>
<circle cx="185" cy="335.5" r="4.1"/>
<circle cx="185.6" cy="340" r="4.1"/>
<circle cx="187" cy="344" r="4.1"/>
<circle cx="189" cy="347.5" r="4.1"/>
<circle cx="190.5" cy="349.5" r="4.1"/>
<circle cx="192" cy="351" r="4.1"/>
<circle cx="193.6" cy="352.4" r="4.1"/>
<circle cx="195.2" cy="353.5" r="4.1"/>
<circle cx="196.8" cy="354.4" r="4.1"/>
<circle cx="198.4" cy="355.2" r="4.1"/>
<circle cx="200" cy="355.9" r="4.1"/>
<circle cx="201.6" cy="356.5" r="4.1"/>
<circle cx="203.2" cy="357" r="4.1"/>
<circle cx="204.8" cy="357.5" r="4.1"/>
<circle cx="206.4" cy="358" r="4.1"/>
<circle cx="208" cy="358.4" r="4.1"/>
<circle cx="209.6" cy="358.4" r="4.1"/>
<circle cx="211.2" cy="357.6" r="4.1"/>
<circle cx="212.6" cy="356.4" r="4.1"/>
<circle cx="213.6" cy="354.5" r="4.1"/>
<circle cx="215" cy="350.5" r="4.1"/>
<circle cx="216.4" cy="341.7" r="4.1"/>
<circle cx="219.5" cy="349" r="4.1"/>
<circle cx="221" cy="350" r="4.1"/>
<circle cx="222.5" cy="350.5" r="4.1"/>
<circle cx="224.8" cy="349" r="4.1"/>
<circle cx="226.4" cy="341" r="4.1"/>
<circle cx="227.9" cy="334" r="4.1"/>
<circle cx="229.5" cy="327" r="4.1"/>
<circle cx="231" cy="321.6" r="4.1"/>
<circle cx="232.6" cy="317.8" r="4.1"/>
<circle cx="234.1" cy="314" r="4.1"/>
<circle cx="235.6" cy="310.6" r="4.1"/>
<circle cx="237.1" cy="308.6" r="4.1"/>
<circle cx="238.7" cy="306.9" r="4.1"/>
<circle cx="240.3" cy="305.4" r="4.1"/>
<circle cx="241.9" cy="304.1" r="4.1"/>
<circle cx="243.5" cy="303" r="4.1"/>
<circle cx="245.1" cy="302" r="4.1"/>
<circle cx="246.7" cy="301.3" r="4.1"/>
<circle cx="248.3" cy="300.8" r="4.1"/>
<circle cx="249.9" cy="300.5" r="4.1"/>
<circle cx="251.5" cy="300.4" r="4.1"/>
<circle cx="253" cy="300.8" r="4.1"/>
<circle cx="255.1" cy="319.1" r="4.1"/>
<circle cx="257" cy="341" r="4.1"/>
<circle cx="260" cy="345.5" r="4.1"/>
<circle cx="258.5" cy="350" r="4.1"/>
<circle cx="262" cy="356" r="4.1"/>
<circle cx="264.5" cy="357.4" r="4.1"/>
<circle cx="267" cy="358" r="4.1"/>
<circle cx="269" cy="358" r="4.1"/>
<circle cx="271.5" cy="357.6" r="4.1"/>
<circle cx="273.9" cy="357" r="4.1"/>
<circle cx="276" cy="355.6" r="4.1"/>
<circle cx="278" cy="354" r="4.1"/>
<circle cx="280" cy="352" r="4.1"/>
<circle cx="282" cy="349.5" r="4.1"/>
<circle cx="284" cy="347" r="4.1"/>
<circle cx="286.3" cy="344" r="4.1"/>
<circle cx="288.5" cy="342.3" r="4.1"/>
<circle cx="291" cy="341" r="4.1"/>
<circle cx="293" cy="341.3" r="4.1"/>
<circle cx="295" cy="341.8" r="4.1"/>
<circle cx="297" cy="342.5" r="4.1"/>
<circle cx="299" cy="343.4" r="4.1"/>
<circle cx="301" cy="344.3" r="4.1"/>
<circle cx="303" cy="345.2" r="4.1"/>
<circle cx="304.8" cy="346" r="4.1"/>
<circle cx="307" cy="346.8" r="4.1"/>
<circle cx="309" cy="347.5" r="4.1"/>
<circle cx="311" cy="348" r="4.1"/>
<circle cx="313" cy="347" r="4.1"/>
<circle cx="315" cy="345.6" r="4.1"/>
<circle cx="317" cy="344" r="4.1"/>
<circle cx="319" cy="342.5" r="4.1"/>
<circle cx="321" cy="341.2" r="4.1"/>
<circle cx="323" cy="340" r="4.1"/>
<circle cx="325" cy="339.7" r="4.1"/>
<circle cx="327" cy="339.5" r="4.1"/>
<circle cx="329.5" cy="339.5" r="4.1"/>
<circle cx="331.5" cy="340.2" r="4.1"/>
<circle cx="333.3" cy="341" r="4.1"/>
<circle cx="335" cy="343" r="4.1"/>
<circle cx="334.9" cy="353.5" r="4.1"/>
<circle cx="337" cy="354.8" r="4.1"/>
<circle cx="339" cy="355.5" r="4.1"/>
<circle cx="341" cy="354.8" r="4.1"/>
<circle cx="343" cy="353.8" r="4.1"/>
<circle cx="345" cy="352.5" r="4.1"/>
<circle cx="347" cy="351" r="4.1"/>
<circle cx="349" cy="349.5" r="4.1"/>
<circle cx="351" cy="348" r="4.1"/>
</g>
</g>
<g>
<line x1="480.4" y1="350.54" x2="697.55" y2="350.54" stroke="#bababa" stroke-width="2" stroke-dasharray="1.2 4.37"/>
<line x1="480.4" y1="341.99" x2="697.55" y2="341.99" stroke="#bababa" stroke-width="2" stroke-dasharray="1.2 4.37"/>
<line x1="480.4" y1="333.43" x2="697.55" y2="333.43" stroke="#bababa" stroke-width="2" stroke-dasharray="1.2 4.37"/>
<line x1="480.4" y1="324.87" x2="697.55" y2="324.87" stroke="#bababa" stroke-width="2" stroke-dasharray="1.2 4.37"/>
<line x1="480.4" y1="307.76" x2="697.55" y2="307.76" stroke="#bababa" stroke-width="2" stroke-dasharray="1.2 4.37"/>
<line x1="523.43" y1="299.2" x2="523.43" y2="359.1" stroke="#d8d8d8" stroke-width="2"/>
<line x1="567.21" y1="299.2" x2="567.21" y2="359.1" stroke="#d8d8d8" stroke-width="2"/>
<line x1="610.99" y1="299.2" x2="610.99" y2="359.1" stroke="#d8d8d8" stroke-width="2"/>
<line x1="654.77" y1="299.2" x2="654.77" y2="359.1" stroke="#d8d8d8" stroke-width="2"/>
<line x1="479.65" y1="316.31" x2="698.55" y2="316.31" stroke="#d8d8d8" stroke-width="2"/>
<rect x="479.65" y="299.2" width="218.9" height="59.9" fill="none" stroke="#262626" stroke-width="2.2"/>
<line x1="523.43" y1="359.1" x2="523.43" y2="355.3" stroke="#262626" stroke-width="2"/>
<line x1="523.43" y1="299.2" x2="523.43" y2="303" stroke="#262626" stroke-width="2"/>
<line x1="567.21" y1="359.1" x2="567.21" y2="355.3" stroke="#262626" stroke-width="2"/>
<line x1="567.21" y1="299.2" x2="567.21" y2="303" stroke="#262626" stroke-width="2"/>
<line x1="610.99" y1="359.1" x2="610.99" y2="355.3" stroke="#262626" stroke-width="2"/>
<line x1="610.99" y1="299.2" x2="610.99" y2="303" stroke="#262626" stroke-width="2"/>
<line x1="654.77" y1="359.1" x2="654.77" y2="355.3" stroke="#262626" stroke-width="2"/>
<line x1="654.77" y1="299.2" x2="654.77" y2="303" stroke="#262626" stroke-width="2"/>
<text x="444.35" y="365.8" font-size="19.3" textLength="26.4" lengthAdjust="spacingAndGlyphs">0.5</text>
<line x1="479.65" y1="316.31" x2="483.25" y2="316.31" stroke="#262626" stroke-width="1.8"/>
<line x1="698.55" y1="316.31" x2="694.95" y2="316.31" stroke="#262626" stroke-width="1.8"/>
<text x="460" y="323.01" font-size="19.3" textLength="10.75" lengthAdjust="spacingAndGlyphs">1</text>
<text transform="translate(434.4 328.85) rotate(-90)" x="-54.5" y="0" font-size="21.2" textLength="109" lengthAdjust="spacingAndGlyphs">H2OMIXRA</text>
<g fill="none" stroke="#0072bd" stroke-width="2">
<circle cx="517.96" cy="324.87" r="4.1"/>
<circle cx="519.79" cy="324.87" r="4.1"/>
<circle cx="521.61" cy="324.87" r="4.1"/>
<circle cx="523.44" cy="324.87" r="4.1"/>
<circle cx="525.27" cy="324.87" r="4.1"/>
<circle cx="527.09" cy="324.87" r="4.1"/>
<circle cx="528.92" cy="324.87" r="4.1"/>
<circle cx="530.75" cy="324.87" r="4.1"/>
<circle cx="532.57" cy="324.87" r="4.1"/>
<circle cx="534.4" cy="324.87" r="4.1"/>
<circle cx="536.23" cy="324.87" r="4.1"/>
<circle cx="538.05" cy="324.87" r="4.1"/>
<circle cx="539.88" cy="324.87" r="4.1"/>
<circle cx="541.71" cy="324.87" r="4.1"/>
<circle cx="543.53" cy="324.87" r="4.1"/>
<circle cx="545.36" cy="324.87" r="4.1"/>
<circle cx="547.19" cy="333.43" r="4.1"/>
<circle cx="549.01" cy="333.43" r="4.1"/>
<circle cx="550.84" cy="333.43" r="4.1"/>
<circle cx="552.67" cy="333.43" r="4.1"/>
<circle cx="554.49" cy="333.43" r="4.1"/>
<circle cx="556.32" cy="333.43" r="4.1"/>
<circle cx="558.15" cy="333.43" r="4.1"/>
<circle cx="559.97" cy="333.43" r="4.1"/>
<circle cx="561.8" cy="333.43" r="4.1"/>
<circle cx="563.63" cy="341.99" r="4.1"/>
<circle cx="565.45" cy="341.99" r="4.1"/>
<circle cx="567.28" cy="341.99" r="4.1"/>
<circle cx="569.11" cy="341.99" r="4.1"/>
<circle cx="570.93" cy="341.99" r="4.1"/>
<circle cx="572.76" cy="341.99" r="4.1"/>
<circle cx="574.59" cy="341.99" r="4.1"/>
<circle cx="576.41" cy="341.99" r="4.1"/>
<circle cx="578.7" cy="333.43" r="4.1"/>
<circle cx="582.6" cy="324.87" r="4.1"/>
<circle cx="585.7" cy="316.31" r="4.1"/>
<circle cx="587.8" cy="316.31" r="4.1"/>
<circle cx="589.3" cy="316.31" r="4.1"/>
<circle cx="589.2" cy="307.76" r="4.1"/>
<circle cx="591.03" cy="307.76" r="4.1"/>
<circle cx="592.85" cy="307.76" r="4.1"/>
<circle cx="594.68" cy="307.76" r="4.1"/>
<circle cx="596.51" cy="307.76" r="4.1"/>
<circle cx="598.1" cy="316.31" r="4.1"/>
<circle cx="602" cy="316.31" r="4.1"/>
<circle cx="605.8" cy="316.31" r="4.1"/>
<circle cx="609.7" cy="316.31" r="4.1"/>
<circle cx="599.7" cy="324.87" r="4.1"/>
<circle cx="603.5" cy="324.87" r="4.1"/>
<circle cx="611.2" cy="324.87" r="4.1"/>
<circle cx="612.8" cy="333.43" r="4.1"/>
<circle cx="614.77" cy="341.99" r="4.1"/>
<circle cx="616.6" cy="341.99" r="4.1"/>
<circle cx="618.43" cy="341.99" r="4.1"/>
<circle cx="620.25" cy="341.99" r="4.1"/>
<circle cx="622.08" cy="341.99" r="4.1"/>
<circle cx="623.91" cy="350.54" r="4.1"/>
<circle cx="625.73" cy="350.54" r="4.1"/>
<circle cx="627.56" cy="350.54" r="4.1"/>
<circle cx="629.39" cy="350.54" r="4.1"/>
<circle cx="631.21" cy="350.54" r="4.1"/>
<circle cx="633.04" cy="350.54" r="4.1"/>
<circle cx="634.87" cy="350.54" r="4.1"/>
<circle cx="636.69" cy="350.54" r="4.1"/>
<circle cx="638.52" cy="350.54" r="4.1"/>
<circle cx="640.35" cy="350.54" r="4.1"/>
<circle cx="642.17" cy="350.54" r="4.1"/>
<circle cx="644" cy="350.54" r="4.1"/>
<circle cx="645.83" cy="350.54" r="4.1"/>
<circle cx="647.65" cy="350.54" r="4.1"/>
<circle cx="649.48" cy="350.54" r="4.1"/>
<circle cx="651.31" cy="350.54" r="4.1"/>
<circle cx="653.13" cy="350.54" r="4.1"/>
<circle cx="642" cy="341.99" r="4.1"/>
<circle cx="654.96" cy="341.99" r="4.1"/>
<circle cx="656.79" cy="341.99" r="4.1"/>
<circle cx="658.61" cy="341.99" r="4.1"/>
<circle cx="660.44" cy="333.43" r="4.1"/>
<circle cx="662.27" cy="333.43" r="4.1"/>
<circle cx="664.09" cy="333.43" r="4.1"/>
<circle cx="665.92" cy="333.43" r="4.1"/>
<circle cx="667.75" cy="333.43" r="4.1"/>
<circle cx="669.57" cy="333.43" r="4.1"/>
<circle cx="671.4" cy="333.43" r="4.1"/>
<circle cx="663.4" cy="324.87" r="4.1"/>
<circle cx="671.1" cy="341.99" r="4.1"/>
<circle cx="682.2" cy="333.43" r="4.1"/>
<circle cx="687.6" cy="324.87" r="4.1"/>
<circle cx="672.6" cy="324.87" r="4.1"/>
<circle cx="675.7" cy="324.87" r="4.1"/>
<circle cx="678.3" cy="324.87" r="4.1"/>
<circle cx="674.2" cy="316.31" r="4.1"/>
<circle cx="677.8" cy="316.31" r="4.1"/>
<circle cx="680.9" cy="316.31" r="4.1"/>
<circle cx="684" cy="316.31" r="4.1"/>
<circle cx="687.6" cy="316.31" r="4.1"/>
<circle cx="690.6" cy="316.31" r="4.1"/>
<circle cx="693.7" cy="307.76" r="4.1"/>
<circle cx="691.7" cy="299.2" r="4.1"/>
</g>
</g>
<g>
<line x1="137.2" y1="482.85" x2="354.4" y2="482.85" stroke="#bababa" stroke-width="2" stroke-dasharray="1.2 4.37"/>
<line x1="137.2" y1="478.4" x2="354.4" y2="478.4" stroke="#bababa" stroke-width="2" stroke-dasharray="1.2 4.37"/>
<line x1="137.2" y1="473.95" x2="354.4" y2="473.95" stroke="#bababa" stroke-width="2" stroke-dasharray="1.2 4.37"/>
<line x1="137.2" y1="469.5" x2="354.4" y2="469.5" stroke="#bababa" stroke-width="2" stroke-dasharray="1.2 4.37"/>
<line x1="137.2" y1="460.6" x2="354.4" y2="460.6" stroke="#bababa" stroke-width="2" stroke-dasharray="1.2 4.37"/>
<line x1="137.2" y1="456.15" x2="354.4" y2="456.15" stroke="#bababa" stroke-width="2" stroke-dasharray="1.2 4.37"/>
<line x1="137.2" y1="451.71" x2="354.4" y2="451.71" stroke="#bababa" stroke-width="2" stroke-dasharray="1.2 4.37"/>
<line x1="137.2" y1="447.26" x2="354.4" y2="447.26" stroke="#bababa" stroke-width="2" stroke-dasharray="1.2 4.37"/>
<line x1="137.2" y1="438.36" x2="354.4" y2="438.36" stroke="#bababa" stroke-width="2" stroke-dasharray="1.2 4.37"/>
<line x1="137.2" y1="433.91" x2="354.4" y2="433.91" stroke="#bababa" stroke-width="2" stroke-dasharray="1.2 4.37"/>
<line x1="137.2" y1="429.46" x2="354.4" y2="429.46" stroke="#bababa" stroke-width="2" stroke-dasharray="1.2 4.37"/>
<line x1="180.24" y1="426.9" x2="180.24" y2="487.3" stroke="#d8d8d8" stroke-width="2"/>
<line x1="224.03" y1="426.9" x2="224.03" y2="487.3" stroke="#d8d8d8" stroke-width="2"/>
<line x1="267.82" y1="426.9" x2="267.82" y2="487.3" stroke="#d8d8d8" stroke-width="2"/>
<line x1="311.61" y1="426.9" x2="311.61" y2="487.3" stroke="#d8d8d8" stroke-width="2"/>
<line x1="136.45" y1="465.05" x2="355.4" y2="465.05" stroke="#d8d8d8" stroke-width="2"/>
<line x1="136.45" y1="442.81" x2="355.4" y2="442.81" stroke="#d8d8d8" stroke-width="2"/>
<rect x="136.45" y="426.9" width="218.95" height="60.4" fill="none" stroke="#262626" stroke-width="2.2"/>
<line x1="180.24" y1="487.3" x2="180.24" y2="483.5" stroke="#262626" stroke-width="2"/>
<line x1="180.24" y1="426.9" x2="180.24" y2="430.7" stroke="#262626" stroke-width="2"/>
<line x1="224.03" y1="487.3" x2="224.03" y2="483.5" stroke="#262626" stroke-width="2"/>
<line x1="224.03" y1="426.9" x2="224.03" y2="430.7" stroke="#262626" stroke-width="2"/>
<line x1="267.82" y1="487.3" x2="267.82" y2="483.5" stroke="#262626" stroke-width="2"/>
<line x1="267.82" y1="426.9" x2="267.82" y2="430.7" stroke="#262626" stroke-width="2"/>
<line x1="311.61" y1="487.3" x2="311.61" y2="483.5" stroke="#262626" stroke-width="2"/>
<line x1="311.61" y1="426.9" x2="311.61" y2="430.7" stroke="#262626" stroke-width="2"/>
<text x="116.8" y="494" font-size="19.3" textLength="10.75" lengthAdjust="spacingAndGlyphs">0</text>
<line x1="136.45" y1="465.05" x2="140.05" y2="465.05" stroke="#262626" stroke-width="1.8"/>
<line x1="355.4" y1="465.05" x2="351.8" y2="465.05" stroke="#262626" stroke-width="1.8"/>
<text x="95.3" y="471.75" font-size="19.3" textLength="32.25" lengthAdjust="spacingAndGlyphs">100</text>
<line x1="136.45" y1="442.81" x2="140.05" y2="442.81" stroke="#262626" stroke-width="1.8"/>
<line x1="355.4" y1="442.81" x2="351.8" y2="442.81" stroke="#262626" stroke-width="1.8"/>
<text x="95.3" y="449.51" font-size="19.3" textLength="32.25" lengthAdjust="spacingAndGlyphs">200</text>
<text transform="translate(75.4 501.4) rotate(-90)" x="0" y="0" font-size="21.2" textLength="47.6" lengthAdjust="spacingAndGlyphs">TERR</text>
<text transform="translate(85.3 454.4) rotate(-90)" x="0" y="0" font-size="16.96" textLength="17.6" lengthAdjust="spacingAndGlyphs">M</text>
<text transform="translate(75.4 434.4) rotate(-90)" x="0" y="0" font-size="21.2" textLength="22" lengthAdjust="spacingAndGlyphs">SL</text>
<text transform="translate(149.05 509) rotate(-45)" x="-50" y="0" font-size="19.3" textLength="50" lengthAdjust="spacingAndGlyphs">12/19</text>
<text transform="translate(192.84 509) rotate(-45)" x="-50" y="0" font-size="19.3" textLength="50" lengthAdjust="spacingAndGlyphs">12/20</text>
<text transform="translate(236.63 509) rotate(-45)" x="-50" y="0" font-size="19.3" textLength="50" lengthAdjust="spacingAndGlyphs">12/21</text>
<text transform="translate(280.42 509) rotate(-45)" x="-50" y="0" font-size="19.3" textLength="50" lengthAdjust="spacingAndGlyphs">12/22</text>
<text transform="translate(324.21 509) rotate(-45)" x="-50" y="0" font-size="19.3" textLength="50" lengthAdjust="spacingAndGlyphs">12/23</text>
<text transform="translate(368 509) rotate(-45)" x="-50" y="0" font-size="19.3" textLength="50" lengthAdjust="spacingAndGlyphs">12/24</text>
<text x="220.92" y="575.7" font-size="21.2" textLength="48.6" lengthAdjust="spacingAndGlyphs">Time</text>
<g fill="none" stroke="#0072bd" stroke-width="2">
<circle cx="174.61" cy="487.3" r="4.1"/>
<circle cx="176.44" cy="487.3" r="4.1"/>
<circle cx="178.27" cy="487.3" r="4.1"/>
<circle cx="180.1" cy="487.3" r="4.1"/>
<circle cx="181.93" cy="487.3" r="4.1"/>
<circle cx="183.76" cy="487.3" r="4.1"/>
<circle cx="185.59" cy="487.3" r="4.1"/>
<circle cx="187.42" cy="487.3" r="4.1"/>
<circle cx="189.25" cy="487.3" r="4.1"/>
<circle cx="191.07" cy="487.3" r="4.1"/>
<circle cx="227.66" cy="487.3" r="4.1"/>
<circle cx="229.49" cy="487.3" r="4.1"/>
<circle cx="231.32" cy="487.3" r="4.1"/>
<circle cx="233.15" cy="487.3" r="4.1"/>
<circle cx="234.97" cy="487.3" r="4.1"/>
<circle cx="236.8" cy="487.3" r="4.1"/>
<circle cx="238.63" cy="487.3" r="4.1"/>
<circle cx="240.46" cy="487.3" r="4.1"/>
<circle cx="242.29" cy="487.3" r="4.1"/>
<circle cx="244.12" cy="487.3" r="4.1"/>
<circle cx="245.95" cy="487.3" r="4.1"/>
<circle cx="247.78" cy="487.3" r="4.1"/>
<circle cx="249.61" cy="487.3" r="4.1"/>
<circle cx="251.44" cy="487.3" r="4.1"/>
<circle cx="253.27" cy="487.3" r="4.1"/>
<circle cx="315.46" cy="487.3" r="4.1"/>
<circle cx="317.29" cy="487.3" r="4.1"/>
<circle cx="319.12" cy="487.3" r="4.1"/>
<circle cx="320.95" cy="487.3" r="4.1"/>
<circle cx="322.77" cy="487.3" r="4.1"/>
<circle cx="324.6" cy="487.3" r="4.1"/>
<circle cx="326.43" cy="487.3" r="4.1"/>
<circle cx="328.26" cy="487.3" r="4.1"/>
<circle cx="330.09" cy="487.3" r="4.1"/>
<circle cx="331.92" cy="487.3" r="4.1"/>
<circle cx="333.75" cy="487.3" r="4.1"/>
<circle cx="192.9" cy="486.23" r="4.1"/>
<circle cx="194.73" cy="485.01" r="4.1"/>
<circle cx="196.56" cy="483.79" r="4.1"/>
<circle cx="198.39" cy="482.51" r="4.1"/>
<circle cx="200.22" cy="481.04" r="4.1"/>
<circle cx="202.05" cy="479.57" r="4.1"/>
<circle cx="203.88" cy="478.1" r="4.1"/>
<circle cx="205.71" cy="476.78" r="4.1"/>
<circle cx="207.54" cy="475.47" r="4.1"/>
<circle cx="209.37" cy="474.17" r="4.1"/>
<circle cx="212" cy="476.5" r="4.1"/>
<circle cx="214" cy="480.5" r="4.1"/>
<circle cx="216" cy="483.6" r="4.1"/>
<circle cx="219.5" cy="479" r="4.1"/>
<circle cx="221.5" cy="474.4" r="4.1"/>
<circle cx="222" cy="471.3" r="4.1"/>
<circle cx="224.8" cy="482" r="4.1"/>
<circle cx="257" cy="427" r="4.1"/>
<circle cx="260.5" cy="432.3" r="4.1"/>
<circle cx="258.5" cy="438.1" r="4.1"/>
<circle cx="269.3" cy="448.9" r="4.1"/>
<circle cx="267.8" cy="452.8" r="4.1"/>
<circle cx="255" cy="463.6" r="4.1"/>
<circle cx="262.4" cy="462.8" r="4.1"/>
<circle cx="266.2" cy="474.4" r="4.1"/>
<circle cx="263.9" cy="477.5" r="4.1"/>
<circle cx="270.6" cy="430.9" r="4.1"/>
<circle cx="272.4" cy="431.4" r="4.1"/>
<circle cx="273.8" cy="432.2" r="4.1"/>
<circle cx="276.3" cy="432.9" r="4.1"/>
<circle cx="277.6" cy="440.6" r="4.1"/>
<circle cx="280.2" cy="447.6" r="4.1"/>
<circle cx="282.1" cy="456.6" r="4.1"/>
<circle cx="284.7" cy="450.5" r="4.1"/>
<circle cx="286.5" cy="453" r="4.1"/>
<circle cx="288.3" cy="449" r="4.1"/>
<circle cx="290.2" cy="452.5" r="4.1"/>
<circle cx="292.4" cy="448.5" r="4.1"/>
<circle cx="293.8" cy="451.5" r="4.1"/>
<circle cx="295.5" cy="444.3" r="4.1"/>
<circle cx="296.5" cy="446" r="4.1"/>
<circle cx="297.8" cy="448" r="4.1"/>
<circle cx="299.6" cy="451" r="4.1"/>
<circle cx="301.7" cy="453.6" r="4.1"/>
<circle cx="303.5" cy="455" r="4.1"/>
<circle cx="305" cy="453.5" r="4.1"/>
<circle cx="306.3" cy="455.9" r="4.1"/>
<circle cx="308.6" cy="459" r="4.1"/>
<circle cx="309.7" cy="469" r="4.1"/>
<circle cx="311.7" cy="477.5" r="4.1"/>
<circle cx="313.3" cy="482.9" r="4.1"/>
<circle cx="335.6" cy="481.3" r="4.1"/>
<circle cx="336.4" cy="475.1" r="4.1"/>
<circle cx="338.4" cy="472" r="4.1"/>
<circle cx="340.3" cy="469" r="4.1"/>
<circle cx="342.6" cy="464.4" r="4.1"/>
<circle cx="344.9" cy="460.5" r="4.1"/>
<circle cx="346.4" cy="462.8" r="4.1"/>
<circle cx="347.6" cy="466" r="4.1"/>
<circle cx="348.7" cy="469.8" r="4.1"/>
<circle cx="350.3" cy="482.1" r="4.1"/>
</g>
</g>
<g>
<line x1="480.4" y1="482.85" x2="697.55" y2="482.85" stroke="#bababa" stroke-width="2" stroke-dasharray="1.2 4.37"/>
<line x1="480.4" y1="478.4" x2="697.55" y2="478.4" stroke="#bababa" stroke-width="2" stroke-dasharray="1.2 4.37"/>
<line x1="480.4" y1="473.95" x2="697.55" y2="473.95" stroke="#bababa" stroke-width="2" stroke-dasharray="1.2 4.37"/>
<line x1="480.4" y1="469.5" x2="697.55" y2="469.5" stroke="#bababa" stroke-width="2" stroke-dasharray="1.2 4.37"/>
<line x1="480.4" y1="460.6" x2="697.55" y2="460.6" stroke="#bababa" stroke-width="2" stroke-dasharray="1.2 4.37"/>
<line x1="480.4" y1="456.15" x2="697.55" y2="456.15" stroke="#bababa" stroke-width="2" stroke-dasharray="1.2 4.37"/>
<line x1="480.4" y1="451.71" x2="697.55" y2="451.71" stroke="#bababa" stroke-width="2" stroke-dasharray="1.2 4.37"/>
<line x1="480.4" y1="447.26" x2="697.55" y2="447.26" stroke="#bababa" stroke-width="2" stroke-dasharray="1.2 4.37"/>
<line x1="480.4" y1="438.36" x2="697.55" y2="438.36" stroke="#bababa" stroke-width="2" stroke-dasharray="1.2 4.37"/>
<line x1="480.4" y1="433.91" x2="697.55" y2="433.91" stroke="#bababa" stroke-width="2" stroke-dasharray="1.2 4.37"/>
<line x1="480.4" y1="429.46" x2="697.55" y2="429.46" stroke="#bababa" stroke-width="2" stroke-dasharray="1.2 4.37"/>
<line x1="523.43" y1="426.9" x2="523.43" y2="487.3" stroke="#d8d8d8" stroke-width="2"/>
<line x1="567.21" y1="426.9" x2="567.21" y2="487.3" stroke="#d8d8d8" stroke-width="2"/>
<line x1="610.99" y1="426.9" x2="610.99" y2="487.3" stroke="#d8d8d8" stroke-width="2"/>
<line x1="654.77" y1="426.9" x2="654.77" y2="487.3" stroke="#d8d8d8" stroke-width="2"/>
<line x1="479.65" y1="465.05" x2="698.55" y2="465.05" stroke="#d8d8d8" stroke-width="2"/>
<line x1="479.65" y1="442.81" x2="698.55" y2="442.81" stroke="#d8d8d8" stroke-width="2"/>
<rect x="479.65" y="426.9" width="218.9" height="60.4" fill="none" stroke="#262626" stroke-width="2.2"/>
<line x1="523.43" y1="487.3" x2="523.43" y2="483.5" stroke="#262626" stroke-width="2"/>
<line x1="523.43" y1="426.9" x2="523.43" y2="430.7" stroke="#262626" stroke-width="2"/>
<line x1="567.21" y1="487.3" x2="567.21" y2="483.5" stroke="#262626" stroke-width="2"/>
<line x1="567.21" y1="426.9" x2="567.21" y2="430.7" stroke="#262626" stroke-width="2"/>
<line x1="610.99" y1="487.3" x2="610.99" y2="483.5" stroke="#262626" stroke-width="2"/>
<line x1="610.99" y1="426.9" x2="610.99" y2="430.7" stroke="#262626" stroke-width="2"/>
<line x1="654.77" y1="487.3" x2="654.77" y2="483.5" stroke="#262626" stroke-width="2"/>
<line x1="654.77" y1="426.9" x2="654.77" y2="430.7" stroke="#262626" stroke-width="2"/>
<text x="460" y="494" font-size="19.3" textLength="10.75" lengthAdjust="spacingAndGlyphs">0</text>
<line x1="479.65" y1="465.05" x2="483.25" y2="465.05" stroke="#262626" stroke-width="1.8"/>
<line x1="698.55" y1="465.05" x2="694.95" y2="465.05" stroke="#262626" stroke-width="1.8"/>
<text x="449.25" y="471.75" font-size="19.3" textLength="21.5" lengthAdjust="spacingAndGlyphs">10</text>
<line x1="479.65" y1="442.81" x2="483.25" y2="442.81" stroke="#262626" stroke-width="1.8"/>
<line x1="698.55" y1="442.81" x2="694.95" y2="442.81" stroke="#262626" stroke-width="1.8"/>
<text x="449.25" y="449.51" font-size="19.3" textLength="21.5" lengthAdjust="spacingAndGlyphs">20</text>
<text transform="translate(399 503) rotate(-90)" x="0" y="0" font-size="21.2" textLength="40" lengthAdjust="spacingAndGlyphs">SUN</text>
<text transform="translate(408.9 458) rotate(-90)" x="0" y="0" font-size="16.96" textLength="8" lengthAdjust="spacingAndGlyphs">F</text>
<text transform="translate(399 448.4) rotate(-90)" x="0" y="0" font-size="21.2" textLength="37.6" lengthAdjust="spacingAndGlyphs">LUX</text>
<text transform="translate(492.25 509) rotate(-45)" x="-50" y="0" font-size="19.3" textLength="50" lengthAdjust="spacingAndGlyphs">12/19</text>
<text transform="translate(536.03 509) rotate(-45)" x="-50" y="0" font-size="19.3" textLength="50" lengthAdjust="spacingAndGlyphs">12/20</text>
<text transform="translate(579.81 509) rotate(-45)" x="-50" y="0" font-size="19.3" textLength="50" lengthAdjust="spacingAndGlyphs">12/21</text>
<text transform="translate(623.59 509) rotate(-45)" x="-50" y="0" font-size="19.3" textLength="50" lengthAdjust="spacingAndGlyphs">12/22</text>
<text transform="translate(667.37 509) rotate(-45)" x="-50" y="0" font-size="19.3" textLength="50" lengthAdjust="spacingAndGlyphs">12/23</text>
<text transform="translate(711.15 509) rotate(-45)" x="-50" y="0" font-size="19.3" textLength="50" lengthAdjust="spacingAndGlyphs">12/24</text>
<text x="564.1" y="575.7" font-size="21.2" textLength="48.6" lengthAdjust="spacingAndGlyphs">Time</text>
<g fill="none" stroke="#0072bd" stroke-width="2">
<circle cx="517.96" cy="487.3" r="4.1"/>
<circle cx="519.79" cy="487.3" r="4.1"/>
<circle cx="521.61" cy="487.3" r="4.1"/>
<circle cx="523.44" cy="487.3" r="4.1"/>
<circle cx="525.27" cy="487.3" r="4.1"/>
<circle cx="527.09" cy="487.3" r="4.1"/>
<circle cx="528.92" cy="487.3" r="4.1"/>
<circle cx="530.75" cy="487.3" r="4.1"/>
<circle cx="532.57" cy="487.3" r="4.1"/>
<circle cx="534.4" cy="487.3" r="4.1"/>
<circle cx="536.23" cy="487.3" r="4.1"/>
<circle cx="538.05" cy="487.3" r="4.1"/>
<circle cx="539.88" cy="487.3" r="4.1"/>
<circle cx="541.71" cy="487.3" r="4.1"/>
<circle cx="543.53" cy="487.3" r="4.1"/>
<circle cx="545.36" cy="487.3" r="4.1"/>
<circle cx="547.19" cy="487.3" r="4.1"/>
<circle cx="549.01" cy="487.3" r="4.1"/>
<circle cx="550.84" cy="487.3" r="4.1"/>
<circle cx="552.67" cy="487.3" r="4.1"/>
<circle cx="554.49" cy="487.3" r="4.1"/>
<circle cx="556.32" cy="487.3" r="4.1"/>
<circle cx="558.15" cy="487.3" r="4.1"/>
<circle cx="559.97" cy="487.3" r="4.1"/>
<circle cx="561.8" cy="487.3" r="4.1"/>
<circle cx="563.63" cy="487.3" r="4.1"/>
<circle cx="565.45" cy="487.3" r="4.1"/>
<circle cx="567.28" cy="487.3" r="4.1"/>
<circle cx="569.11" cy="487.3" r="4.1"/>
<circle cx="570.93" cy="487.3" r="4.1"/>
<circle cx="572.76" cy="487.3" r="4.1"/>
<circle cx="574.59" cy="487.3" r="4.1"/>
<circle cx="576.41" cy="487.3" r="4.1"/>
<circle cx="578.24" cy="487.3" r="4.1"/>
<circle cx="580.07" cy="487.3" r="4.1"/>
<circle cx="581.89" cy="487.3" r="4.1"/>
<circle cx="583.72" cy="487.3" r="4.1"/>
<circle cx="585.55" cy="487.3" r="4.1"/>
<circle cx="587.37" cy="487.3" r="4.1"/>
<circle cx="589.2" cy="487.3" r="4.1"/>
<circle cx="591.03" cy="487.3" r="4.1"/>
<circle cx="592.85" cy="487.3" r="4.1"/>
<circle cx="594.68" cy="487.3" r="4.1"/>
<circle cx="596.51" cy="487.3" r="4.1"/>
<circle cx="598.33" cy="487.3" r="4.1"/>
<circle cx="600.16" cy="487.3" r="4.1"/>
<circle cx="601.99" cy="487.3" r="4.1"/>
<circle cx="603.81" cy="487.3" r="4.1"/>
<circle cx="605.64" cy="487.3" r="4.1"/>
<circle cx="607.47" cy="487.3" r="4.1"/>
<circle cx="609.29" cy="487.3" r="4.1"/>
<circle cx="611.12" cy="487.3" r="4.1"/>
<circle cx="612.95" cy="487.3" r="4.1"/>
<circle cx="614.77" cy="487.3" r="4.1"/>
<circle cx="616.6" cy="487.3" r="4.1"/>
<circle cx="618.43" cy="487.3" r="4.1"/>
<circle cx="620.25" cy="487.3" r="4.1"/>
<circle cx="622.08" cy="487.3" r="4.1"/>
<circle cx="623.91" cy="487.3" r="4.1"/>
<circle cx="625.73" cy="487.3" r="4.1"/>
<circle cx="627.56" cy="487.3" r="4.1"/>
<circle cx="638.52" cy="487.3" r="4.1"/>
<circle cx="640.35" cy="487.3" r="4.1"/>
<circle cx="642.17" cy="487.3" r="4.1"/>
<circle cx="644" cy="487.3" r="4.1"/>
<circle cx="645.83" cy="487.3" r="4.1"/>
<circle cx="647.65" cy="487.3" r="4.1"/>
<circle cx="649.48" cy="487.3" r="4.1"/>
<circle cx="651.31" cy="487.3" r="4.1"/>
<circle cx="653.13" cy="487.3" r="4.1"/>
<circle cx="654.96" cy="487.3" r="4.1"/>
<circle cx="656.79" cy="487.3" r="4.1"/>
<circle cx="658.61" cy="487.3" r="4.1"/>
<circle cx="660.44" cy="487.3" r="4.1"/>
<circle cx="662.27" cy="487.3" r="4.1"/>
<circle cx="664.09" cy="487.3" r="4.1"/>
<circle cx="665.92" cy="487.3" r="4.1"/>
<circle cx="667.75" cy="487.3" r="4.1"/>
<circle cx="669.57" cy="487.3" r="4.1"/>
<circle cx="671.4" cy="487.3" r="4.1"/>
<circle cx="687.84" cy="487.3" r="4.1"/>
<circle cx="689.67" cy="487.3" r="4.1"/>
<circle cx="691.49" cy="487.3" r="4.1"/>
<circle cx="693.32" cy="487.3" r="4.1"/>
<circle cx="629" cy="476.7" r="4.1"/>
<circle cx="631" cy="466.7" r="4.1"/>
<circle cx="634.4" cy="466.7" r="4.1"/>
<circle cx="632.8" cy="456.6" r="4.1"/>
<circle cx="636.7" cy="476.7" r="4.1"/>
<circle cx="673.2" cy="468.7" r="4.1"/>
<circle cx="674.5" cy="449.7" r="4.1"/>
<circle cx="677.1" cy="427" r="4.1"/>
<circle cx="678.6" cy="443.5" r="4.1"/>
<circle cx="680.3" cy="456.6" r="4.1"/>
<circle cx="682.5" cy="469" r="4.1"/>
<circle cx="683.7" cy="474.4" r="4.1"/>
<circle cx="685.3" cy="479.8" r="4.1"/>
</g>
</g>
</svg></body></html>
